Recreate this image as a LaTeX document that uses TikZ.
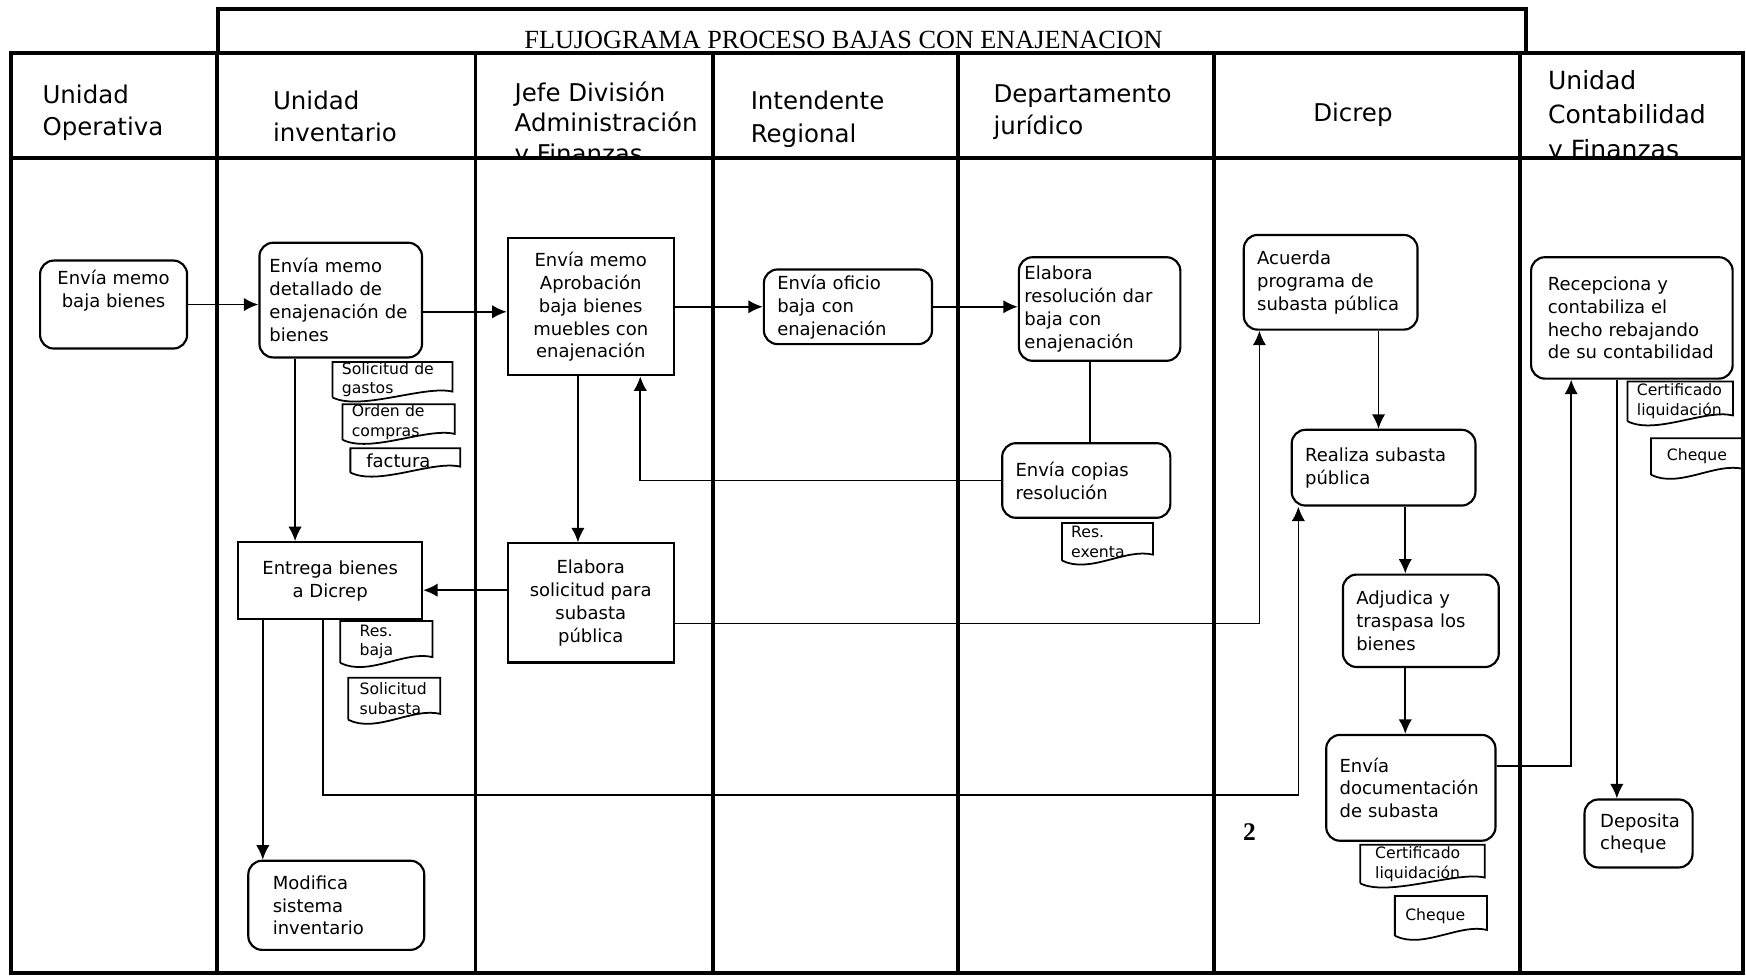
\documentclass[tikz,border=0pt]{standalone}
\usepackage{fontspec}
\setmainfont{DejaVu Sans}
\newfontfamily\titlefont{Liberation Serif}
\usetikzlibrary{arrows.meta}

\begin{document}
\begin{tikzpicture}[
    lane/.style={line width=2pt},
    lanename/.style={anchor=west, align=left, font=\fontsize{12.5}{16.5}\selectfont},
    proc/.style={draw, rounded corners=7pt, line width=1.1pt, align=left, inner xsep=0.24cm, inner ysep=0pt, font=\fontsize{9.2}{11.7}\selectfont},
    sqbox/.style={draw, line width=1.1pt, align=center, inner ysep=0pt, font=\fontsize{9.2}{11.7}\selectfont},
    doc/.style={align=left, inner xsep=0.16cm, inner ysep=0pt, font=\fontsize{8}{10}\selectfont},
    arr/.style={-{Latex[length=2.6mm, width=2.4mm]}, line width=0.9pt}
]
        \useasboundingbox (0,0) rectangle (31.36,-17.52);

        \node[anchor=base, font=\titlefont\fontsize{13.4}{15}\selectfont] (titulo) at (15.15,-0.87) {FLUJOGRAMA PROCESO BAJAS CON ENAJENACION};

        \begin{scope}
            \clip (0.2,-0.96) rectangle (31.3,-2.84);
            \node[lanename] (uo) at (0.64,-2.03) {Unidad\\Operativa};
            \node[lanename] (ui) at (4.78,-2.09) {Unidad\\inventario};
            \node[lanename, font=\fontsize{12.5}{15.4}\selectfont] (jd) at (9.12,-2.24) {Jefe División\\Administración\\y Finanzas};
            \node[lanename] (ir) at (13.36,-2.14) {Intendente\\Regional};
            \node[lanename] (dj) at (17.72,-2.02) {Departamento\\jurídico};
            \node[lanename, anchor=center] (dc) at (24.3,-2.06) {Dicrep};
            \node[lanename, font=\fontsize{12.8}{17.6}\selectfont] (uc) at (27.68,-2.1) {Unidad\\Contabilidad\\y Finanzas};
        \end{scope}

        \draw[lane] (3.92,-0.16) rectangle (27.4,-0.96);
        \draw[lane] (0.2,-0.96) rectangle (31.3,-17.47);
        \draw[lane] (0.2,-2.84) -- (31.3,-2.84);
        \foreach \x in {3.9,8.54,12.8,17.2,21.8,27.3}
            \draw[lane] (\x,-0.96) -- (\x,-17.47);

        \node[proc, align=center, minimum width=2.64cm, minimum height=1.58cm, text depth=16pt] (n1) at (2.04,-5.47) {Envía memo\\baja bienes};
        \node[proc, inner xsep=0.18cm, text width=2.56cm, minimum height=2.06cm] (n2) at (6.12,-5.39) {Envía memo\\detallado de\\enajenación de\\bienes};
        \node[sqbox, minimum width=2.98cm, minimum height=2.46cm] (n4) at (10.61,-5.51) {Envía memo\\Aprobación\\baja bienes\\muebles con\\enajenación};
        \node[proc, text width=2.54cm, minimum height=1.34cm] (n5) at (15.23,-5.51) {Envía oficio\\baja con\\enajenación};
        \node[proc, inner xsep=0.1cm, text width=2.7cm, minimum height=1.86cm] (n6) at (19.75,-5.55) {Elabora\\resolución dar\\baja con\\enajenación};
        \node[proc, text width=2.54cm, minimum height=1.34cm] (n7) at (19.51,-8.63) {Envía copias\\resolución};
        \node[proc, text width=2.64cm, minimum height=1.7cm] (n9) at (23.9,-5.07) {Acuerda\\programa de\\subasta pública};
        \node[proc, text width=2.82cm, minimum height=1.36cm] (n10) at (24.85,-8.4) {Realiza subasta\\pública};
        \node[proc, text width=2.32cm, minimum height=1.66cm] (n11) at (25.52,-11.15) {Adjudica y\\traspasa los\\bienes};
        \node[proc, text width=2.56cm, minimum height=1.9cm] (n12) at (25.34,-14.15) {Envía\\documentación\\de subasta};
        \node[proc, inner xsep=0.3cm, text width=3.02cm, minimum height=2.18cm] (n15) at (29.31,-5.71) {Recepciona y\\contabiliza el\\hecho rebajando\\de su contabilidad};
        \node[proc, inner xsep=0.28cm, text width=1.38cm, minimum height=1.22cm] (n17) at (29.43,-14.97) {Deposita\\cheque};
        \node[sqbox, minimum width=3.3cm, minimum height=1.38cm] (n18) at (5.93,-10.43) {Entrega bienes\\a Dicrep};
        \node[sqbox, minimum width=2.98cm, minimum height=2.14cm] (n20) at (10.61,-10.83) {Elabora\\solicitud para\\subasta\\pública};
        \node[proc, inner xsep=0.44cm, text width=2.28cm, minimum height=1.6cm] (n21) at (6.04,-16.26) {Modifica\\sistema\\inventario};

        \node[doc, text width=1.82cm, minimum height=0.62cm] (d1) at (7.05,-6.82) {Solicitud de\\gastos};
        \node[doc, text width=1.68cm, minimum height=0.6cm] (d2) at (7.16,-7.58) {Orden de\\compras};
        \node[doc, inner xsep=0.28cm, text width=1.4cm, minimum height=0.42cm, font=\fontsize{9.2}{11.7}\selectfont] (d3) at (7.28,-8.27) {factura};
        \node[doc, text width=1.3cm, minimum height=0.66cm] (d4) at (19.89,-9.73) {Res.\\exenta};
        \node[doc, inner xsep=0.26cm, text width=1.7cm, minimum height=0.68cm] (d5) at (25.55,-15.52) {Certificado\\liquidación};
        \node[doc, inner xsep=0.18cm, text width=1.28cm, minimum height=0.7cm] (d6) at (25.88,-16.45) {Cheque};
        \node[doc, text width=1.56cm, minimum height=0.7cm] (d7) at (30.18,-7.21) {Certificado\\liquidación};
        \node[doc, inner xsep=0.28cm, text width=1.08cm, minimum height=0.64cm] (d8) at (30.48,-8.2) {Cheque};
        \node[doc, inner xsep=0.34cm, text width=0.96cm, minimum height=0.74cm] (d9) at (6.94,-11.53) {Res.\\baja};
        \node[doc, inner xsep=0.2cm, text width=1.24cm, minimum height=0.74cm] (d10) at (7.08,-12.55) {Solicitud\\subasta};

        \foreach \d in {d1,d2,d3,d4,d5,d6,d7,d8,d9,d10}
            \draw[line width=0.9pt] (\d.south west) -- (\d.north west) -- (\d.north east) -- ([yshift=3pt]\d.south east) .. controls +(-0.5,0.12) and +(0.5,-0.25) .. (\d.south west);

        \node[font=\titlefont\bfseries\fontsize{13}{15}\selectfont] (num) at (22.44,-14.94) {2};

        \draw[arr] (n1.east) -- (n1.east -| n2.west);
        \draw[arr] ([yshift=-0.21cm]n2.east) -- ([yshift=-0.21cm]n2.east -| n4.west);
        \draw[arr] (n4.east) -- (n4.east -| n5.west);
        \draw[arr] (n5.east) -- (n5.east -| n6.west);
        \draw[line width=0.9pt] ([xshift=-0.17cm]n6.south) -- ([xshift=-0.17cm]n6.south |- n7.north);
        \draw[arr] (n7.west) -| ([xshift=0.89cm]n4.south);
        \draw[arr] ([xshift=-0.23cm]n4.south) -- ([xshift=-0.23cm]n4.south |- n20.north);
        \draw[arr] ([yshift=0.23cm]n20.west) -- ([yshift=0.23cm]n20.west -| n18.east);
        \draw[arr] ([yshift=-0.37cm]n20.east) -| ([xshift=-1.28cm]n9.south);
        \draw[arr] ([xshift=-0.82cm]n2.south) -- ([xshift=-0.82cm]n2.south |- n18.north);
        \draw[arr] ([xshift=-1.21cm]n18.south) -- ([xshift=-1.21cm]n18.south |- n21.north);
        \draw[arr] ([xshift=-0.13cm]n18.south) -- ++(0,-3.14) -| ([xshift=-1.53cm]n10.south);
        \draw[arr] ([xshift=0.86cm]n9.south) -- ([xshift=0.86cm]n9.south |- n10.north);
        \draw[arr] ([xshift=0.39cm]n10.south) -- ([xshift=0.39cm]n10.south |- n11.north);
        \draw[arr] ([xshift=-0.28cm]n11.south) -- ([xshift=-0.28cm]n11.south |- n12.north);
        \draw[arr] ([yshift=0.39cm]n12.east) -| ([xshift=-1.09cm]n15.south);
        \draw[arr] ([xshift=-0.27cm]n15.south) -- ([xshift=-0.27cm]n15.south |- n17.north);
\end{tikzpicture}
\end{document}
